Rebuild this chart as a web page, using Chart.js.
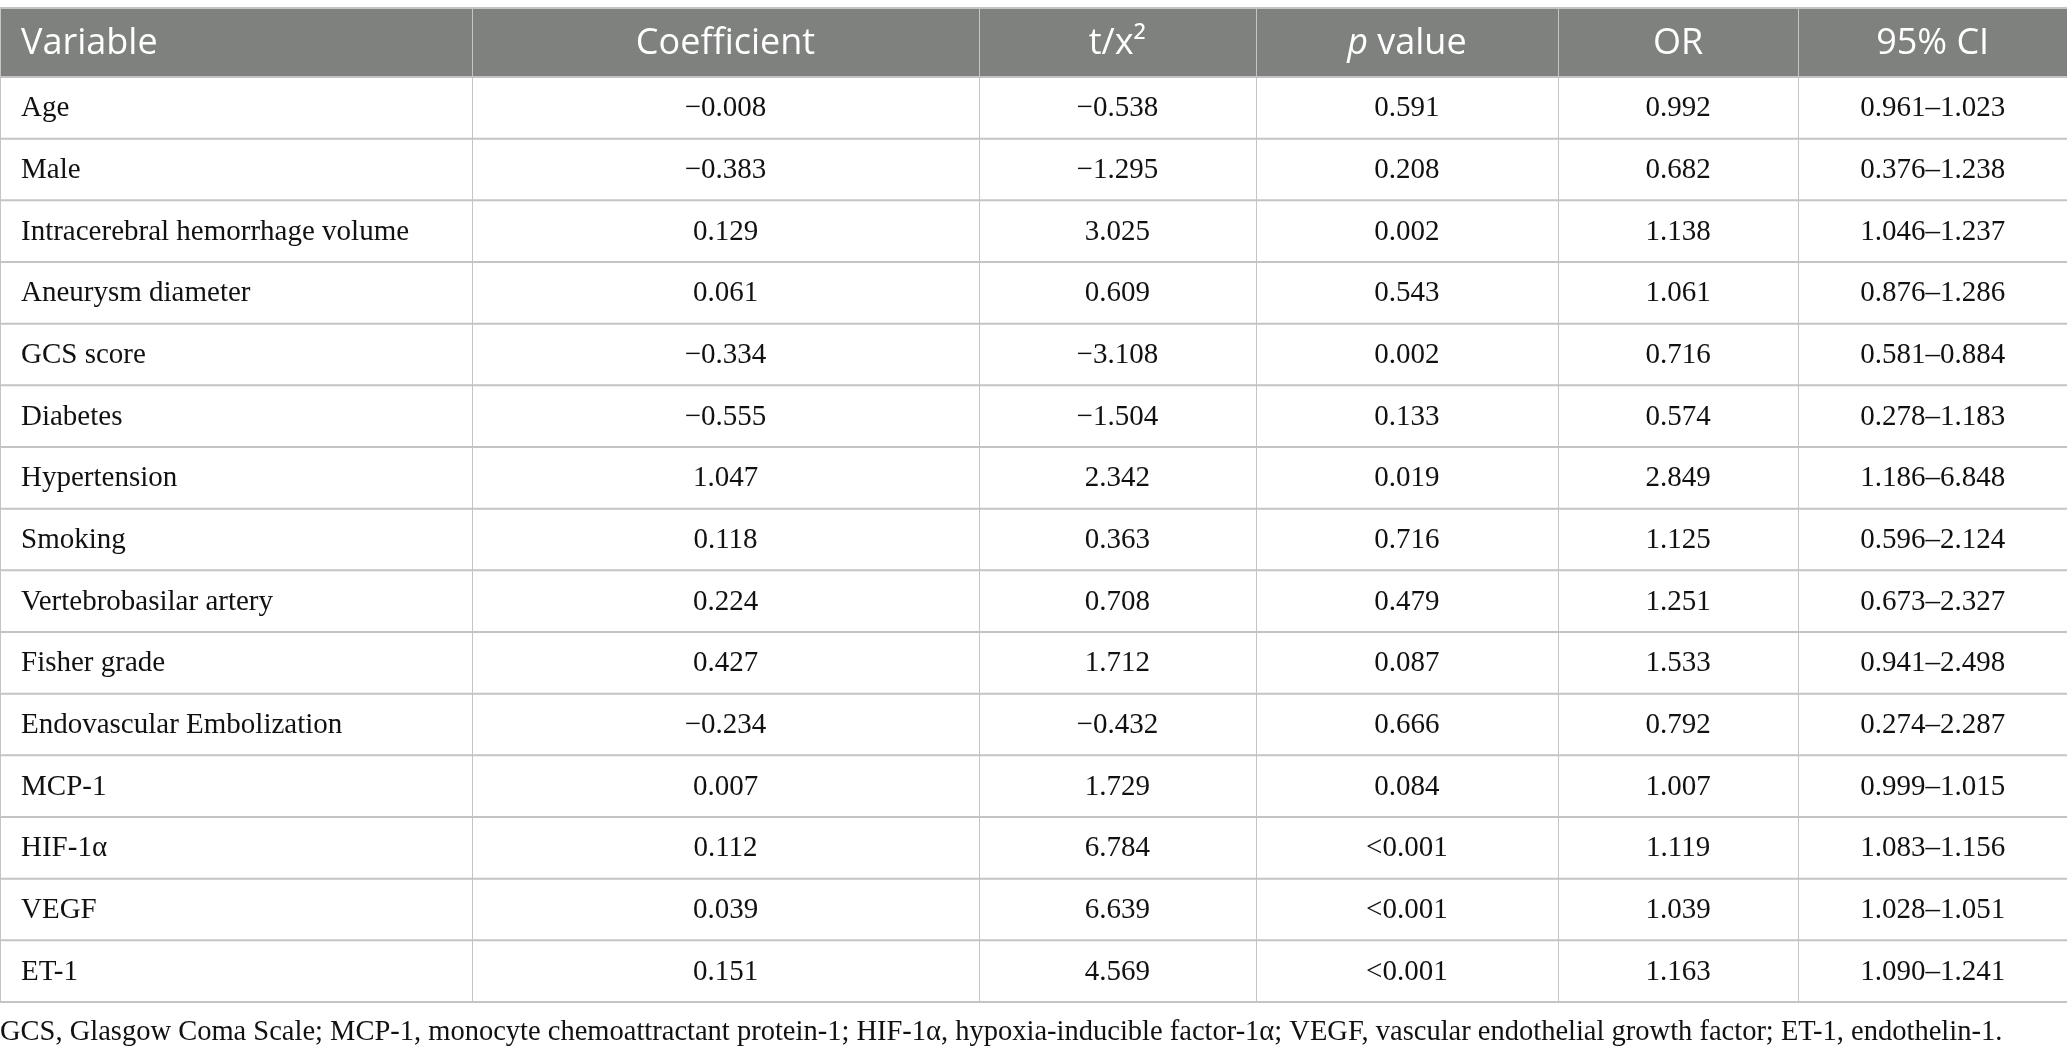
<!DOCTYPE html>
<html>
<head>
<meta charset="utf-8">
<script src="https://cdn.jsdelivr.net/npm/chart.js@4.4.1/dist/chart.umd.min.js"></script>
<style>
  html, body { margin: 0; padding: 0; background: #fff; }
  #tableChart { display: block; }
</style>
</head>
<body>
<canvas id="tableChart" width="2067" height="1060"></canvas>
<script>
// Table content
const columnHeaders = ['Variable', 'Coefficient', 't/x\u00b2', '*p* value', 'OR', '95% CI'];
const variables = [
    'Age', 'Male', 'Intracerebral hemorrhage volume', 'Aneurysm diameter', 'GCS score',
    'Diabetes', 'Hypertension', 'Smoking', 'Vertebrobasilar artery', 'Fisher grade',
    'Endovascular Embolization', 'MCP-1', 'HIF-1\u03b1', 'VEGF', 'ET-1'
];
const coefficients = [-0.008, -0.383, 0.129, 0.061, -0.334, -0.555, 1.047, 0.118, 0.224, 0.427, -0.234, 0.007, 0.112, 0.039, 0.151];
const testStats = [-0.538, -1.295, 3.025, 0.609, -3.108, -1.504, 2.342, 0.363, 0.708, 1.712, -0.432, 1.729, 6.784, 6.639, 4.569];
const pValues = ['0.591', '0.208', '0.002', '0.543', '0.002', '0.133', '0.019', '0.716', '0.479', '0.087', '0.666', '0.084', '<0.001', '<0.001', '<0.001'];
const oddsRatios = [0.992, 0.682, 1.138, 1.061, 0.716, 0.574, 2.849, 1.125, 1.251, 1.533, 0.792, 1.007, 1.119, 1.039, 1.163];
const ciLower = [0.961, 0.376, 1.046, 0.876, 0.581, 0.278, 1.186, 0.596, 0.673, 0.941, 0.274, 0.999, 1.083, 1.028, 1.090];
const ciUpper = [1.023, 1.238, 1.237, 1.286, 0.884, 1.183, 6.848, 2.124, 2.327, 2.498, 2.287, 1.015, 1.156, 1.051, 1.241];
const footnote = 'GCS, Glasgow Coma Scale; MCP-1, monocyte chemoattractant protein-1; HIF-1\u03b1, hypoxia-inducible factor-1\u03b1; VEGF, vascular endothelial growth factor; ET-1, endothelin-1.';

// Layout (column edges as a fraction of the table width)
const colEdges = [0, 0.2284, 0.4736, 0.6076, 0.7537, 0.8700, 1];
const HEADER_H = 69;
const HEADER_BG = '#7f817f';
const RULE = '#c4c4c4';
const BODY_FONT = '29px "Liberation Serif"';
const HEAD_FONT = '36px "Open Sans"';
const NOTE_FONT = '28.5px "Liberation Serif"';

function fmt(v) {
    return (v < 0 ? '\u2212' : '') + Math.abs(v).toFixed(3);
}

function cellText(row, col) {
    switch (col) {
        case 0: return variables[row];
        case 1: return fmt(coefficients[row]);
        case 2: return fmt(testStats[row]);
        case 3: return pValues[row];
        case 4: return fmt(oddsRatios[row]);
        default: return ciLower[row].toFixed(3) + '\u2013' + ciUpper[row].toFixed(3);
    }
}

// Header labels may hold *italic* parts
function drawRich(ctx, label, cx, cy, align, font) {
    const parts = label.split('*').map((t, i) => ({ text: t, italic: i % 2 === 1 })).filter(p => p.text);
    let total = 0;
    parts.forEach(p => {
        ctx.font = (p.italic ? 'italic ' : '') + font;
        p.w = ctx.measureText(p.text).width;
        total += p.w;
    });
    let x = align === 'left' ? cx : cx - total / 2;
    ctx.textAlign = 'left';
    parts.forEach(p => {
        ctx.font = (p.italic ? 'italic ' : '') + font;
        ctx.fillText(p.text, x, cy);
        x += p.w;
    });
}

const tablePlugin = {
    id: 'tablePlugin',
    afterDraw(chart) {
        const { ctx, chartArea } = chart;
        const xs = chart.scales.x;
        const ys = chart.scales.y;
        const edges = colEdges.map(v => xs.getPixelForValue(v));
        const band = ys.getPixelForValue(1) - ys.getPixelForValue(0);
        const headTop = chartArea.top - HEADER_H;

        ctx.save();
        // header
        ctx.fillStyle = HEADER_BG;
        ctx.fillRect(edges[0], headTop, edges[edges.length - 1] - edges[0], HEADER_H);
        ctx.strokeStyle = RULE;
        ctx.lineWidth = 2;
        ctx.beginPath();
        ctx.moveTo(edges[0], headTop);
        ctx.lineTo(edges[edges.length - 1], headTop);
        ctx.stroke();

        // vertical rules
        ctx.lineWidth = 1;
        edges.slice(0, -1).forEach((x, i) => {
            const px = Math.round(x) + 0.5;
            ctx.strokeStyle = RULE;
            ctx.beginPath();
            ctx.moveTo(px, headTop);
            ctx.lineTo(px, chartArea.bottom);
            ctx.stroke();
        });

        // horizontal rules
        ctx.strokeStyle = RULE;
        ctx.lineWidth = 2;
        for (let r = 0; r <= variables.length; r++) {
            const y = ys.getPixelForValue(r) - band / 2;
            ctx.beginPath();
            ctx.moveTo(edges[0], y);
            ctx.lineTo(edges[edges.length - 1], y);
            ctx.stroke();
        }

        // header text
        ctx.fillStyle = '#ffffff';
        ctx.textBaseline = 'middle';
        columnHeaders.forEach((h, c) => {
            const cy = headTop + HEADER_H / 2 + 1;
            if (c === 0) drawRich(ctx, h, edges[0] + 21, cy, 'left', HEAD_FONT);
            else drawRich(ctx, h, (edges[c] + edges[c + 1]) / 2, cy, 'center', HEAD_FONT);
        });

        // body text
        ctx.fillStyle = '#111111';
        ctx.font = BODY_FONT;
        variables.forEach((v, r) => {
            const cy = ys.getPixelForValue(r) + 1;
            for (let c = 0; c < columnHeaders.length; c++) {
                if (c === 0) {
                    ctx.textAlign = 'left';
                    ctx.fillText(cellText(r, c), edges[0] + 21, cy);
                } else {
                    ctx.textAlign = 'center';
                    ctx.fillText(cellText(r, c), (edges[c] + edges[c + 1]) / 2, cy);
                }
            }
        });

        // footnote
        ctx.textAlign = 'left';
        ctx.font = NOTE_FONT;
        ctx.fillText(footnote, edges[0], chartArea.bottom + 31);
        ctx.restore();
    }
};

const canvas = document.getElementById('tableChart');
const tableChart = new Chart(canvas.getContext('2d'), {
    type: 'bar',
    data: { labels: variables, datasets: [] },
    options: {
        responsive: false,
        animation: false,
        indexAxis: 'y',
        layout: { padding: { top: 77, bottom: 58, left: 0, right: 0 } },
        plugins: { legend: { display: false }, tooltip: { enabled: false } },
        scales: {
            x: { type: 'linear', min: 0, max: 1, display: false },
            y: { type: 'category', offset: true, display: false }
        }
    },
    plugins: [tablePlugin]
});
</script>
</body>
</html>
